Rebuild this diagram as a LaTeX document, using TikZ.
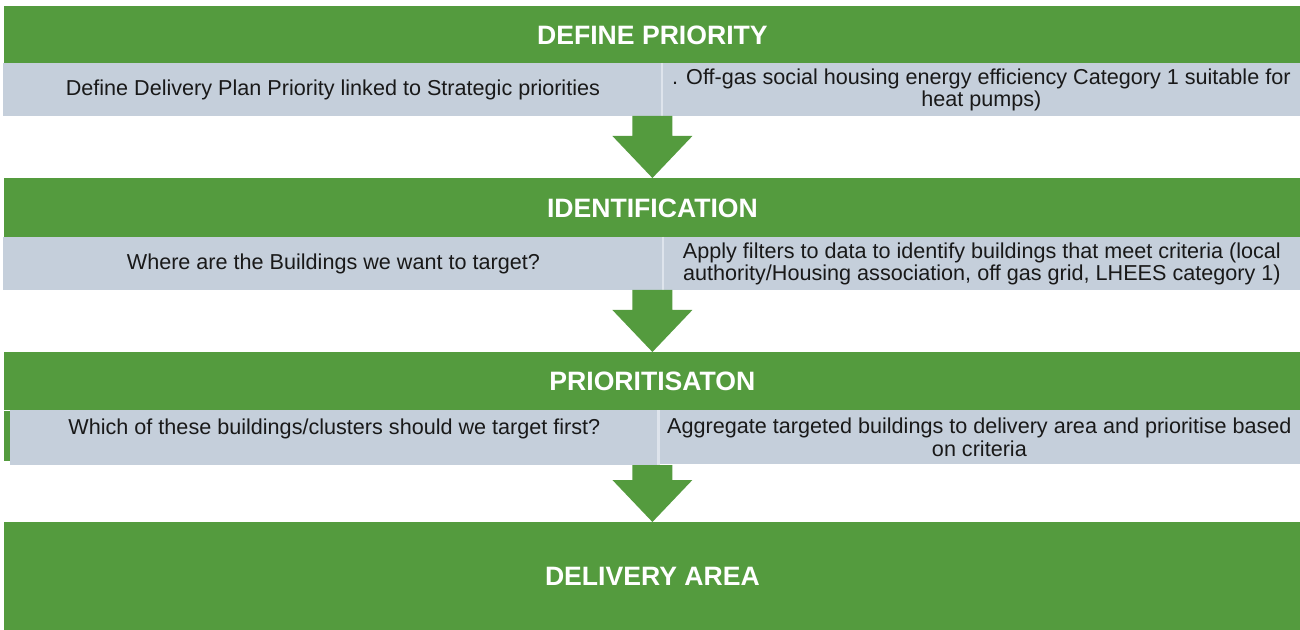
\documentclass[tikz,border=0pt]{standalone}
\usepackage{fontspec}
\setmainfont{Liberation Sans}
\usepackage{xcolor}
\definecolor{stagegreen}{RGB}{84,155,62}
\definecolor{cellgrey}{RGB}{197,207,219}
\definecolor{cellline}{RGB}{222,228,236}
\begin{document}
\begin{tikzpicture}[x=0.5pt,y=-0.5pt,
    stage/.style={rectangle,fill=stagegreen,text=white,inner sep=0pt,anchor=north west,
      font=\bfseries\fontsize{13.3}{15}\selectfont},
    cell/.style={rectangle,fill=cellgrey,text=black!90,inner sep=0pt,anchor=north west,
      align=center,font=\fontsize{10.8}{11.2}\selectfont},
    down/.style={fill=stagegreen}]
\useasboundingbox (0,0) rectangle (1300,630);

% stage 1
\node (h1) at (4,6) [stage,minimum width=648pt,minimum height=28.5pt] {DEFINE PRIORITY};
\node (g1l) at (3,63) [cell,minimum width=329.5pt,minimum height=26.5pt] {Define Delivery Plan Priority linked to Strategic priorities};
\node (g1r) at (662,63) [cell,minimum width=319pt,minimum height=26.5pt] {. Off-gas social housing energy efficiency Category 1 suitable for\\ heat pumps)};
\draw[cellline,line width=1pt] (g1r.north west) -- (g1r.south west);

% stage 2
\node (h2) at (4,178) [stage,minimum width=648pt,minimum height=29.5pt] {IDENTIFICATION};
\node (g2l) at (3,237) [cell,minimum width=330pt,minimum height=26.5pt] {Where are the Buildings we want to target?};
\node (g2r) at (663,237) [cell,minimum width=318.5pt,minimum height=26.5pt] {Apply filters to data to identify buildings that meet criteria (local\\ authority/Housing association, off gas grid, LHEES category 1)};
\draw[cellline,line width=1pt] (g2r.north west) -- (g2r.south west);

% stage 3
\node (h3) at (4,352) [stage,minimum width=648pt,minimum height=29pt] {PRIORITISATON};
\fill[stagegreen] (h3.south west) rectangle ++(6,50);
\node (g3l) at (10,410) [cell,minimum width=324pt,minimum height=27.5pt] {Which of these buildings/clusters should we target first?\\ ~};
\node (g3r) at (658,410) [cell,minimum width=321pt,minimum height=27pt] {Aggregate targeted buildings to delivery area and prioritise based\\ on criteria};
\draw[cellline,line width=1.5pt] (g3r.north west) -- (g3r.south west);

% result
\node (h4) at (4,522) [stage,minimum width=648pt,minimum height=54pt] {DELIVERY AREA};

% arrows
\fill[down] (h2.north) -- ++(-40,-42) -- ++(20,0) -- ++(0,-20) -- ++(40,0) -- ++(0,20) -- ++(20,0) -- cycle;
\fill[down] (h3.north) -- ++(-40,-42) -- ++(20,0) -- ++(0,-20) -- ++(40,0) -- ++(0,20) -- ++(20,0) -- cycle;
\fill[down] (h4.north) -- ++(-40,-42) -- ++(20,0) -- ++(0,-15) -- ++(40,0) -- ++(0,15) -- ++(20,0) -- cycle;

\end{tikzpicture}
\end{document}
